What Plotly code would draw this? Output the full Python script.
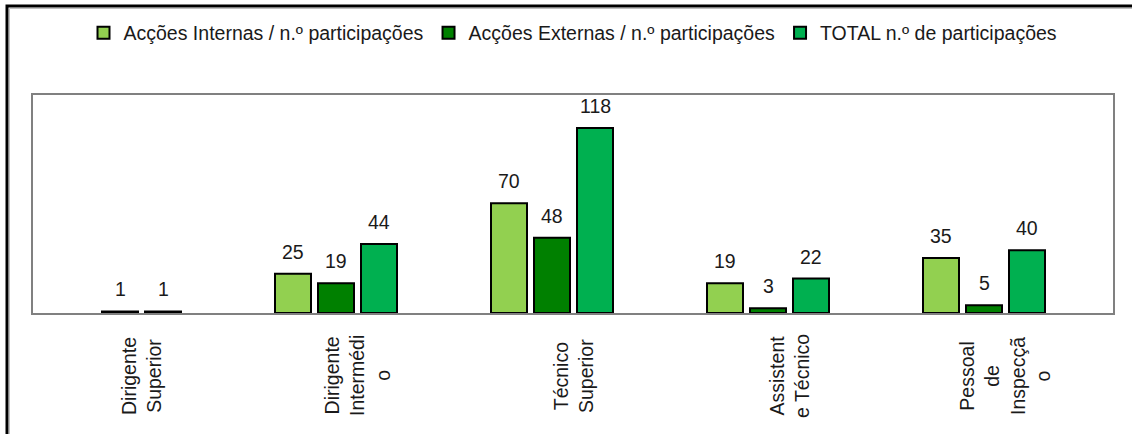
import plotly.graph_objects as go

categories = ["Dirigente Superior", "Dirigente Intermédio", "Técnico Superior",
              "Assistente Técnico", "Pessoal de Inspecção"]
tick_labels = ["Dirigente<br>Superior", "Dirigente<br>Intermédi<br>o", "Técnico<br>Superior",
               "Assistent<br>e Técnico", "Pessoal<br>de<br>Inspecçã<br>o"]
series_names = ["Acções Internas / n.º participações",
                "Acções Externas / n.º participações",
                "TOTAL n.º de participações"]
internas = [None, 25, 70, 19, 35]
externas = [1, 19, 48, 3, 5]
total = [1, 44, 118, 22, 40]
series_values = [internas, externas, total]
colors = ["#92D050", "#008000", "#00B050"]

FONT = "Liberation Sans, Arial, sans-serif"
TXT = "#1a1a1a"

# geometry (category units): bar width and slot spacing
bar_w = 36 / 216
slot = 43 / 216
first_offset = -82 / 216

fig = go.Figure()
annotations = []
for i, (name, vals, col) in enumerate(zip(series_names, series_values, colors)):
    off = first_offset + i * slot
    fig.add_trace(go.Bar(
        x=categories, y=vals, name=name,
        marker=dict(color=col, line=dict(color="black", width=2)),
        width=bar_w, offset=off,
    ))
    for k, v in enumerate(vals):
        if v is None:
            continue
        annotations.append(dict(
            x=k + off + bar_w / 2, y=v, xref="x", yref="y",
            text=str(v), showarrow=False, yanchor="bottom", yshift=9,
            font=dict(family=FONT, size=19.5, color=TXT),
        ))

for k, lab in enumerate(tick_labels):
    annotations.append(dict(
        x=k, y=-0.289, xref="x", yref="paper", text=lab, textangle=-90,
        showarrow=False, xanchor="center", yanchor="middle", align="center",
        font=dict(family=FONT, size=19.5, color=TXT),
    ))

fig.update_layout(
    width=1132, height=434,
    margin=dict(l=33, r=19, t=95, b=121),
    paper_bgcolor="white", plot_bgcolor="white",
    barmode="overlay",
    showlegend=True,
    legend=dict(orientation="h", x=0.5, xanchor="center", y=1.284, yanchor="middle",
                font=dict(family=FONT, size=19.5, color=TXT), itemwidth=30,
                traceorder="normal"),
    xaxis=dict(type="category", showticklabels=False, ticks="", showgrid=False,
               showline=True, mirror=True, linecolor="#808080", linewidth=2,
               range=[-0.5, 4.5], zeroline=False),
    yaxis=dict(range=[0, 139], showticklabels=False, ticks="", showgrid=False,
               showline=True, mirror=True, linecolor="#808080", linewidth=2,
               zeroline=False),
    annotations=annotations,
    shapes=[
        dict(type="rect", xref="paper", yref="paper",
             x0=(7 - 33) / 1080, x1=1.3, y0=-1.5, y1=1 + (95 - 6) / 218,
             line=dict(color="black", width=3)),
        dict(type="rect", xref="paper", yref="paper",
             x0=(9.5 - 33) / 1080, x1=1.3, y0=-1.5, y1=1 + (95 - 8.5) / 218,
             line=dict(color="#c0c0c0", width=1)),
    ],
)

fig.write_html(
    "out.html",
    config={"displayModeBar": False},
    post_script="document.body.style.margin='0';document.body.style.overflow='hidden';",
)
